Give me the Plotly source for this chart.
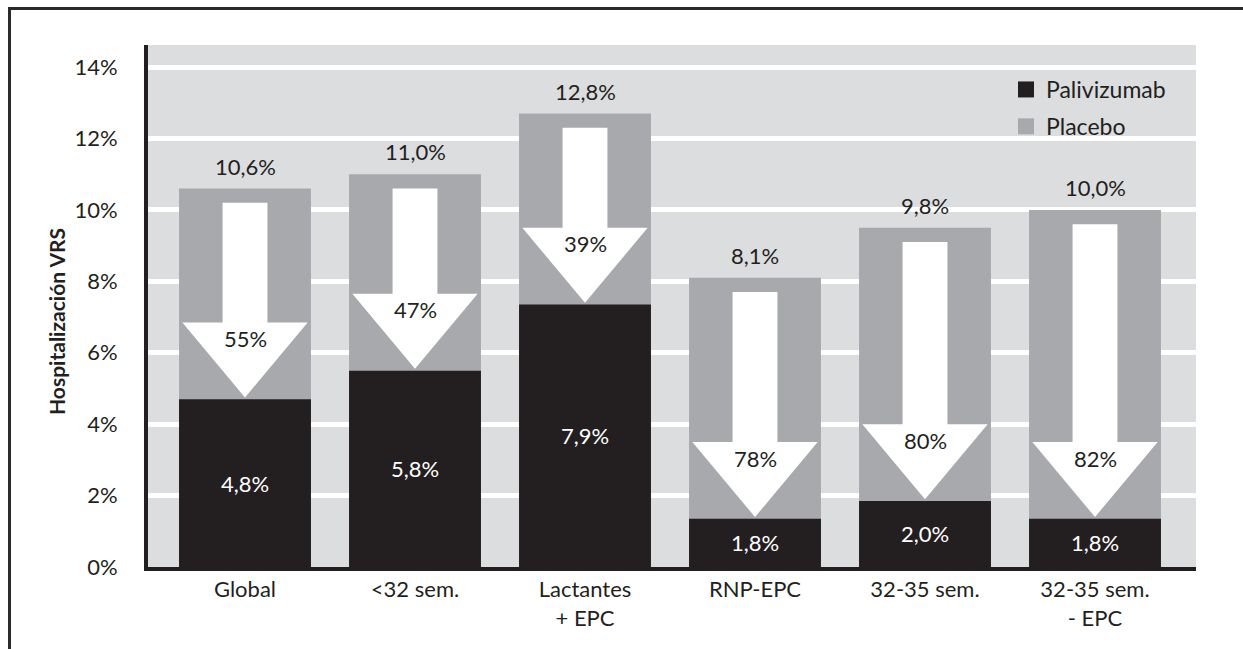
import plotly.graph_objects as go

categories = ["Global", "<32 sem.", "Lactantes<br>+ EPC", "RNP-EPC", "32-35 sem.", "32-35 sem.<br>- EPC"]
placebo = [10.6, 11.0, 12.7, 8.1, 9.5, 10.0]
palivizumab = [4.7, 5.5, 7.35, 1.35, 1.85, 1.35]
placebo_labels = ["10,6%", "11,0%", "12,8%", "8,1%", "9,8%", "10,0%"]
pali_labels = ["4,8%", "5,8%", "7,9%", "1,8%", "2,0%", "1,8%"]
reduction_labels = ["55%", "47%", "39%", "78%", "80%", "82%"]
y_ticks = [0, 2, 4, 6, 8, 10, 12, 14]
y_ticktext = ["0%", "2%", "4%", "6%", "8%", "10%", "12%", "14%"]

DARK = "#231f20"
GRAY = "#a7a9ac"
BG = "#dcdddf"
FONT = "Lato"

W, H = 1243, 649
L, R, T, B = 148, 47, 45, 82
BAR_W = 0.776
xs = list(range(len(categories)))
YMAX = 14.62

fig = go.Figure()
fig.add_trace(go.Bar(x=xs, y=placebo, width=BAR_W, marker=dict(color=GRAY, line=dict(width=0)),
                     name="Placebo", showlegend=False, hoverinfo="skip"))
fig.add_trace(go.Bar(x=xs, y=palivizumab, width=BAR_W, marker=dict(color=DARK, line=dict(width=0)),
                     name="Palivizumab", showlegend=False, hoverinfo="skip"))

# arrows
HEAD_H = 2.15
TOP_GAP = 0.4
shaft_half = BAR_W * 0.17
head_half = BAR_W * 0.475
ax, ay = [], []
for i, (p, q) in enumerate(zip(placebo, palivizumab)):
    tip = q + 0.05
    base = q + HEAD_H
    top = p - TOP_GAP
    pts = [(i - shaft_half, top), (i + shaft_half, top), (i + shaft_half, base),
           (i + head_half, base), (i, tip), (i - head_half, base), (i - shaft_half, base),
           (i - shaft_half, top)]
    for px, py in pts:
        ax.append(px); ay.append(py)
    ax.append(None); ay.append(None)
fig.add_trace(go.Scatter(x=ax, y=ay, mode="lines", fill="toself", fillcolor="white",
                         line=dict(width=0, color="white"), showlegend=False, hoverinfo="skip"))

# legend proxies
fig.add_trace(go.Scatter(x=[None], y=[None], mode="markers", name="Palivizumab", legendgroup="a",
                         marker=dict(symbol="square", size=20, color=DARK)))
fig.add_trace(go.Scatter(x=[None], y=[None], mode="markers", name="Placebo", legendgroup="b",
                         marker=dict(symbol="square", size=20, color=GRAY)))

ann = []
for i in xs:
    ann.append(dict(x=i, y=placebo[i], text=placebo_labels[i], showarrow=False, yanchor="bottom",
                    yshift=7, font=dict(family=FONT, size=22, color=DARK)))
    ann.append(dict(x=i, y=palivizumab[i] / 2, text=pali_labels[i], showarrow=False,
                    font=dict(family=FONT, size=22, color="white")))
    ann.append(dict(x=i, y=palivizumab[i] + HEAD_H - 0.45, text=reduction_labels[i], showarrow=False,
                    font=dict(family=FONT, size=22, color=DARK)))
pw = W - L - R
ph = H - T - B
ann.append(dict(xref="paper", yref="paper", x=(56 - L) / pw, y=(H - B - 322) / ph,
                xanchor="center", yanchor="middle",
                text="<b>Hospitalización VRS</b>", textangle=-90, showarrow=False,
                font=dict(family=FONT, size=21, color=DARK)))

shapes = [
    dict(type="line", xref="paper", yref="paper", x0=(8 - L) / pw, x1=(W + 5 - L) / pw,
         y0=(H - B - 8.5) / ph, y1=(H - B - 8.5) / ph, line=dict(color="#2b2b2b", width=3)),
    dict(type="line", xref="paper", yref="paper", x0=(9.5 - L) / pw, x1=(9.5 - L) / pw,
         y0=(H - B - 7) / ph, y1=(H - B - H - 5) / ph, line=dict(color="#2b2b2b", width=3)),
]

fig.update_layout(
    width=W, height=H,
    margin=dict(l=L, r=R, t=T, b=B, pad=0),
    paper_bgcolor="white", plot_bgcolor=BG,
    barmode="overlay",
    font=dict(family=FONT, size=22, color=DARK),
    showlegend=True,
    legend=dict(x=(1006 - L) / pw, y=(H - B - 68) / ph, xanchor="left", yanchor="top",
                bgcolor="rgba(0,0,0,0)", font=dict(family=FONT, size=23, color=DARK),
                tracegroupgap=4, itemsizing="trace"),
    annotations=ann, shapes=shapes,
    xaxis=dict(range=[(L - 245) / 170, (W - R - 245) / 170], tickvals=xs, ticktext=categories,
               showgrid=False, zeroline=False, showline=True, linecolor=DARK, linewidth=4,
               ticks="", tickfont=dict(family=FONT, size=22, color=DARK), fixedrange=True),
    yaxis=dict(range=[0, YMAX], tickvals=y_ticks, ticktext=y_ticktext, showgrid=True,
               gridcolor="white", gridwidth=5, zeroline=False, showline=True, linecolor=DARK,
               linewidth=4, ticks="", ticklabelstandoff=22,
               tickfont=dict(family=FONT, size=22, color=DARK), fixedrange=True),
)

fig.write_html("out.html", config={"displayModeBar": False},
               post_script="document.body.style.margin='0';")
